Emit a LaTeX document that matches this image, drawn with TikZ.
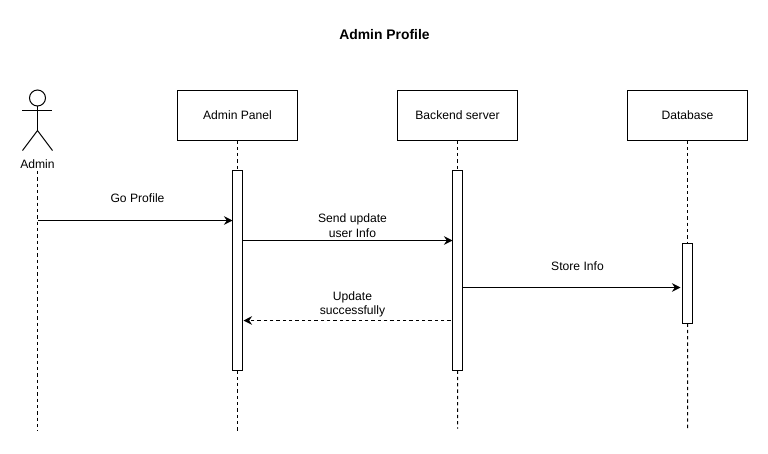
\documentclass[tikz,border=0pt]{standalone}
\usepackage{fontspec}
\setmainfont{Liberation Sans}
\usetikzlibrary{positioning, arrows.meta, calc}

\begin{document}
\begin{tikzpicture}[
    line width=0.57pt,
    >={Stealth[length=0.17cm, width=0.17cm]}, % Arrow tip style
    participant/.style={ % Boxes at the top
        rectangle,
        draw=black,
        minimum width=2.4cm,
        minimum height=1cm,
        inner sep=0pt,
        outer sep=0pt,
        text centered,
        font=\fontsize{6.9pt}{8.2pt}\selectfont
    },
    activation/.style={ % Narrow bars on the lifelines
        rectangle,
        draw=black,
        fill=white,
        minimum width=0.2cm,
        minimum height=#1,
        inner sep=0pt,
        outer sep=0pt
    },
    lifeline/.style={dash pattern=on 1.9pt off 1.7pt},
    arrow/.style={->},
    reply/.style={->, dash pattern=on 1.9pt off 1.7pt},
    label_text/.style={
        font=\fontsize{6.9pt}{8.2pt}\selectfont,
        text centered,
        align=center,
        inner sep=0pt
    }
]
\useasboundingbox (-0.01,0.01) rectangle (15.35,-9.05);

% Title
\node[label_text, font=\fontsize{7.9pt}{9pt}\selectfont\bfseries] (title) at (7.68,-0.69) {Admin Profile};

% Participant blocks
\node[participant] (panel) at (4.74,-2.3) {Admin Panel};
\node[participant] (backend) [right=2cm of panel] {Backend server};
\node[participant] (database) [right=2.2cm of backend] {Database};

% Actor
\coordinate (neck) at (0.74,-2.11);
\node[circle, draw=black, minimum size=0.32cm, inner sep=0pt, outer sep=0pt, anchor=south] (head) at (neck) {};
\coordinate (hip) at (0.74,-2.6);
\coordinate (arm_left) at (0.44,-2.2);
\coordinate (arm_right) at (1.04,-2.2);
\coordinate (foot_left) at (0.44,-3);
\coordinate (foot_right) at (1.04,-3);
\draw (head.south) -- (hip);
\draw (arm_left) -- (arm_right);
\draw (foot_left) -- (hip) -- (foot_right);
\node[label_text] (admin) at (0.74,-3.27) {Admin};

% Activation bars
\node[activation=4cm] (panel_bar) [below=0.6cm of panel] {};
\node[activation=4cm] (backend_bar) [below=0.6cm of backend] {};
\node[activation=1.6cm] (database_bar) [below=2.06cm of database] {};

% Lifelines
\coordinate (admin_end) at (0.74,-8.6);
\coordinate (panel_end) at (4.74,-8.6);
\coordinate (backend_end) at (9.14,-8.56);
\coordinate (database_end) at (13.74,-8.58);
\draw[lifeline] ($(admin.south)+(0,-0.04)$) -- (admin_end);
\draw[lifeline] (panel) -- (panel_bar);
\draw[lifeline] (panel_bar) -- (panel_end);
\draw[lifeline] (backend) -- (backend_bar);
\draw[lifeline] (backend_bar) -- (backend_end);
\draw[lifeline] (database) -- (database_bar);
\draw[lifeline] (database_bar) -- (database_end);

% Messages
\coordinate (go_end) at ($(panel_bar.north west)+(0,-1)$);
\coordinate (send_start) at ($(panel_bar.north east)+(0,-1.4)$);
\coordinate (store_start) at ($(backend_bar.north east)+(0,-2.34)$);
\coordinate (store_end) at ($(database_bar.west |- store_start)+(-0.04,0)$);
\coordinate (update_start) at ($(backend_bar.north west)+(-0.04,-3)$);
\coordinate (update_end) at ($(panel_bar.north east)+(0.02,-3)$);

\draw[arrow] (admin_end |- go_end) -- (go_end);
\draw[arrow] (send_start) -- (backend_bar.west |- send_start);
\draw[arrow] (store_start) -- (store_end);
\draw[reply] (update_start) -- (update_end);

% Message labels
\node[label_text] (go_label) at (2.74,-3.96) {Go Profile};
\node[label_text] (send_label) at (7.04,-4.5) {Send update\\user Info};
\node[label_text] (store_label) at (11.54,-5.32) {Store Info};
\node[label_text] (update_label) at (7.04,-6.08) {Update\\successfully};

\end{tikzpicture}
\end{document}
